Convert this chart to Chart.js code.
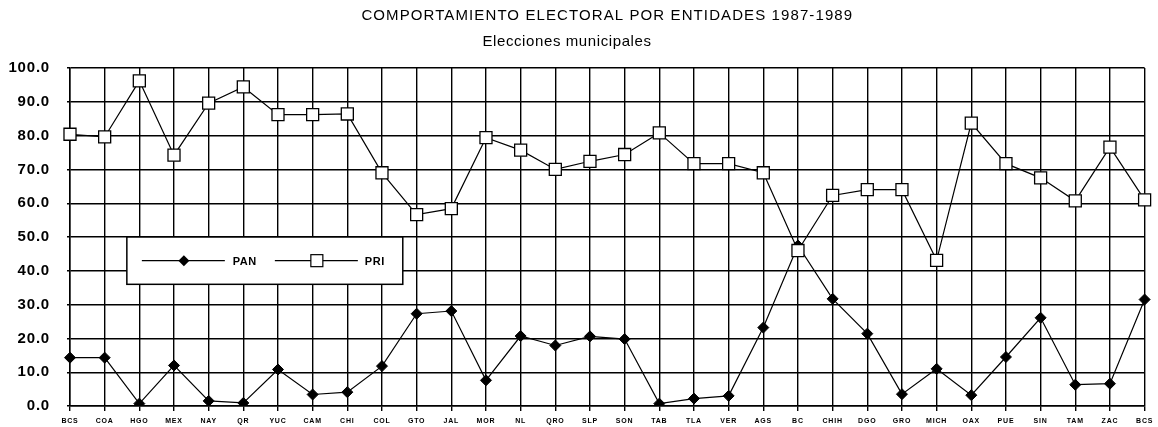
<!DOCTYPE html>
<html>
<head>
<meta charset="utf-8">
<script src="https://cdn.jsdelivr.net/npm/chart.js@4"></script>
<style>
  html, body { margin: 0; padding: 0; background: #fff; overflow: hidden; }
  canvas { display: block; }
</style>
</head>
<body>
<canvas id="myChart" width="1158" height="427"></canvas>
<script>
const ctx = document.getElementById("myChart");

let titulo = 'COMPORTAMIENTO ELECTORAL POR ENTIDADES 1987-1989'
let subtitulo = 'Elecciones municipales'

const entidades = ['BCS', 'COA', 'HGO', 'MEX', 'NAY', 'QR', 'YUC', 'CAM', 'CHI', 'COL', 'GTO', 'JAL', 'MOR', 'NL', 'QRO', 'SLP',
  'SON', 'TAB', 'TLA', 'VER', 'AGS', 'BC', 'CHIH', 'DGO', 'GRO', 'MICH', 'OAX', 'PUE', 'SIN', 'TAM', 'ZAC', 'BCS']

const pan = [14.3, 14.3, 0.7, 12.0, 1.5, 0.9, 10.8, 3.4, 4.1, 11.8, 27.3, 28.1, 7.6, 20.7, 17.9, 20.6,
  19.8, 0.7, 2.2, 3.0, 23.2, 47.5, 31.7, 21.4, 3.5, 11.0, 3.2, 14.5, 26.1, 6.3, 6.6, 31.5]

const pri = [80.4, 79.6, 96.2, 74.2, 89.6, 94.4, 86.2, 86.2, 86.4, 69.0, 56.6, 58.4, 79.4, 75.7, 70.0, 72.4,
  74.4, 80.8, 71.7, 71.7, 69.0, 46.0, 62.3, 64.0, 64.0, 43.1, 83.7, 71.7, 67.5, 60.7, 76.6, 61.0]

const yTicks = [0, 10, 20, 30, 40, 50, 60, 70, 80, 90, 100]

const fuente = "'Liberation Sans', Arial, sans-serif"

// titulos y leyenda dibujados a mano (la leyenda va dentro del area)
const extras = {
  id: 'extras',
  beforeDraw(chart) {
    chart.ctx.letterSpacing = '0.8px'
  },
  afterDraw(chart) {
    const c = chart.ctx
    const area = chart.chartArea
    const x = chart.scales.x
    const y = chart.scales.y
    c.save()
    c.fillStyle = '#000'
    c.textBaseline = 'middle'
    c.textAlign = 'center'
    c.letterSpacing = '1.1px'
    c.font = '15px ' + fuente
    c.fillText(titulo, (area.left + area.right) / 2, 16)
    c.letterSpacing = '0.6px'
    c.fillText(subtitulo, 567, 42)

    // caja de la leyenda
    const bx1 = x.getPixelForValue(1.64)
    const bx2 = x.getPixelForValue(9.6)
    const by1 = y.getPixelForValue(50)
    const by2 = y.getPixelForValue(36)
    c.fillStyle = '#fff'
    c.fillRect(bx1, by1, bx2 - bx1, by2 - by1)
    c.strokeStyle = '#000'
    c.lineWidth = 1.5
    c.strokeRect(bx1, by1, bx2 - bx1, by2 - by1)

    const ly = (by1 + by2) / 2
    c.lineWidth = 1.2
    c.beginPath()
    c.moveTo(bx1 + 15, ly); c.lineTo(bx1 + 98, ly)
    c.moveTo(bx1 + 148, ly); c.lineTo(bx1 + 231, ly)
    c.stroke()
    // rombo PAN
    const dx = bx1 + 57
    c.fillStyle = '#000'
    c.beginPath()
    c.moveTo(dx - 5.5, ly); c.lineTo(dx, ly - 5.5); c.lineTo(dx + 5.5, ly); c.lineTo(dx, ly + 5.5)
    c.closePath()
    c.fill()
    // cuadro PRI
    const sx = bx1 + 190
    c.fillStyle = '#fff'
    c.fillRect(sx - 6, ly - 6, 12, 12)
    c.strokeRect(sx - 6, ly - 6, 12, 12)

    c.fillStyle = '#000'
    c.textAlign = 'left'
    c.letterSpacing = '0.5px'
    c.font = 'bold 11px ' + fuente
    c.fillText('PAN', bx1 + 106, ly + 1)
    c.fillText('PRI', bx1 + 238, ly + 1)
    c.restore()
  }
}

const myChart = new Chart(ctx, {
  type: 'line',
  data: {
    labels: entidades,
    datasets: [{
      label: 'PAN',
      data: pan,
      order: 1,
      borderColor: '#000',
      borderWidth: 1.2,
      backgroundColor: '#000',
      pointStyle: 'rectRot',
      pointRadius: 5.5,
      pointBorderWidth: 1,
      pointBackgroundColor: '#000',
      pointBorderColor: '#000',
      tension: 0
    }, {
      label: 'PRI',
      data: pri,
      order: 0,
      borderColor: '#000',
      borderWidth: 1.2,
      backgroundColor: '#fff',
      pointStyle: 'rect',
      pointRadius: 8.5,
      pointBorderWidth: 1.3,
      pointBackgroundColor: '#fff',
      pointBorderColor: '#000',
      tension: 0
    }]
  },
  options: {
    responsive: false,
    animation: false,
    devicePixelRatio: 1,
    layout: {
      padding: { top: 68, right: 8, bottom: 0, left: 0 }
    },
    scales: {
      x: {
        offset: false,
        grid: { color: '#000', lineWidth: 1.4, tickLength: 5 },
        border: { color: '#000', width: 1.5 },
        ticks: {
          color: '#000',
          font: { family: fuente, size: 7, weight: 'bold' },
          autoSkip: false,
          maxRotation: 0,
          padding: 6
        },
        afterFit: (s) => { s.height = 21 }
      },
      y: {
        min: 0,
        max: 100,
        afterBuildTicks: (s) => { s.ticks = yTicks.map(v => ({ value: v })) },
        // marca larga para separar la etiqueta, solo se ven 3px junto al eje
        grid: { color: '#000', lineWidth: 1.4, tickLength: 17, tickBorderDash: [0, 14, 3] },
        border: { color: '#000', width: 1.5 },
        ticks: {
          color: '#000',
          font: { family: fuente, size: 15, weight: 'bold' },
          padding: 3,
          callback: (v) => Number(v).toFixed(1)
        },
        afterFit: (s) => { s.width = 70 }
      }
    },
    plugins: {
      legend: { display: false },
      title: { display: false },
      tooltip: { enabled: false }
    }
  },
  plugins: [extras]
});
</script>
</body>
</html>
